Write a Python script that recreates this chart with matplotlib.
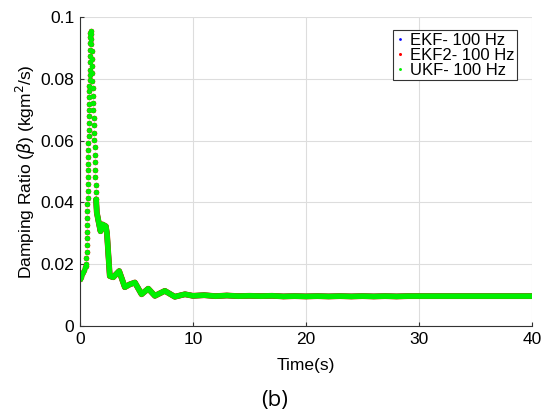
import numpy as np
import matplotlib.pyplot as plt

# amostras do pico (pontos separados)
t_rise = [0.00, 0.10, 0.20, 0.30, 0.40, 0.50, 0.55,
          0.58, 0.59, 0.60, 0.61, 0.62, 0.63, 0.64, 0.65, 0.66, 0.67, 0.68,
          0.69, 0.70, 0.71, 0.72, 0.73, 0.74, 0.75, 0.76, 0.77, 0.78, 0.79,
          0.80, 0.81, 0.82, 0.83, 0.84, 0.85, 0.86, 0.87, 0.88, 0.89, 0.90,
          0.91, 0.92, 0.93, 0.94,
          0.96, 0.98, 1.00, 1.02, 1.04, 1.06, 1.08, 1.10, 1.12, 1.14, 1.16,
          1.18, 1.20, 1.22, 1.24, 1.26, 1.28, 1.30, 1.32, 1.34, 1.36, 1.38,
          1.40, 1.42, 1.44]
b_rise = [0.0152, 0.0160, 0.0168, 0.0175, 0.0182, 0.0190, 0.0195,
          0.0200, 0.0220, 0.0240, 0.0262, 0.0284, 0.0306, 0.0328, 0.0350, 0.0372, 0.0394, 0.0416,
          0.0438, 0.0460, 0.0482, 0.0504, 0.0526, 0.0548, 0.0570, 0.0592, 0.0614, 0.0636, 0.0658,
          0.0680, 0.0700, 0.0720, 0.0740, 0.0760, 0.0778, 0.0796, 0.0813, 0.0830, 0.0855, 0.0875,
          0.0895, 0.0915, 0.0935, 0.0950,
          0.0955, 0.0945, 0.0930, 0.0912, 0.0890, 0.0866, 0.0842, 0.0818, 0.0794, 0.0770, 0.0746,
          0.0722, 0.0698, 0.0674, 0.0650, 0.0626, 0.0602, 0.0578, 0.0554, 0.0530, 0.0506, 0.0482,
          0.0458, 0.0434, 0.0410]

# amostras da cauda (faixa continua)
t_tail = [1.44, 1.50, 1.62, 1.83, 2.00, 2.30, 2.40, 2.65, 2.95, 3.48, 3.98,
          4.42, 4.87, 5.46, 6.05, 6.64, 7.52, 8.40, 9.30, 10.0,
          11, 12, 13, 14, 15, 16, 17, 18, 19, 20, 21, 22, 23, 24, 25, 26, 27,
          28, 29, 30, 32, 34, 36, 38, 40]
b_tail = [0.0410, 0.0368, 0.0345, 0.0307, 0.0329, 0.0323, 0.0300, 0.0162, 0.0158, 0.0178, 0.0126,
          0.0135, 0.0141, 0.0103, 0.0121, 0.0098, 0.0114, 0.0095, 0.0103, 0.0098,
          0.0100, 0.0097, 0.0099, 0.0097, 0.0098, 0.0097, 0.0098, 0.0096, 0.0097, 0.0096, 0.0097,
          0.0096, 0.0097, 0.0096, 0.0097, 0.0096, 0.0097, 0.0096, 0.0097, 0.0097, 0.0097, 0.0097,
          0.0097, 0.0097, 0.0097]

series = [('EKF- 100 Hz', 'blue', 3.6), ('EKF2- 100 Hz', 'red', 4.0), ('UKF- 100 Hz', '#00f000', 3.8)]

plt.rcParams['font.family'] = ['Liberation Sans', 'DejaVu Sans']

fig = plt.figure(figsize=(5.43, 4.17), dpi=100)
ax = fig.add_axes([0.147, 0.218, 0.833, 0.741])

for nome, cor, ms in series:
    ax.plot(t_tail, b_tail, '-', color=cor, lw=ms + 0.2, solid_capstyle='round',
            solid_joinstyle='round')
    ax.plot(t_rise, b_rise, 'o', color=cor, ms=ms, mew=0, label=nome)

ax.set_xlim(0, 40)
ax.set_ylim(0, 0.1)
ax.set_xticks([0, 10, 20, 30, 40])
ax.set_yticks([0, 0.02, 0.04, 0.06, 0.08, 0.1])
ax.set_yticklabels(['0', '0.02', '0.04', '0.06', '0.08', '0.1'])
ax.tick_params(direction='in', labelsize=12.5, length=3, color='#333333', pad=4)
ax.grid(True, color='#dddddd', lw=0.8)
ax.set_axisbelow(True)
for s in ['top', 'right']:
    ax.spines[s].set_visible(False)
for s in ['left', 'bottom']:
    ax.spines[s].set_color('#333333')

ax.set_xlabel('Time(s)', fontsize=12.5, labelpad=8)
ax.set_ylabel(r'Damping Ratio ($\beta$) (kgm$^2$/s)', fontsize=12.5, labelpad=2)

leg = ax.legend(loc='upper right', fontsize=12, markerscale=0.55, handlelength=0.5,
                handletextpad=0.35, borderpad=0.15, labelspacing=0.0, fancybox=False,
                framealpha=1, edgecolor='#333333', bbox_to_anchor=(0.985, 0.985))
leg.get_frame().set_linewidth(0.8)

fig.text(0.505, 0.04, '(b)', fontsize=16, family='Open Sans', ha='center', va='center')

fig.savefig('out.png', dpi=100)
